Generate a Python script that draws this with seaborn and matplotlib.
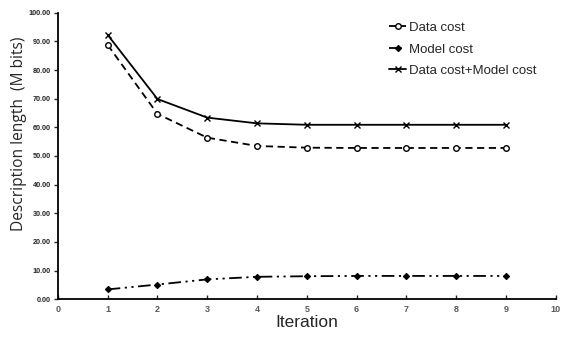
import numpy as np
import pandas as pd
import matplotlib
matplotlib.use("Agg")
import matplotlib.pyplot as plt
import seaborn as sns

iterations = [1, 2, 3, 4, 5, 6, 7, 8, 9]
data_cost = [88.8, 64.7, 56.4, 53.5, 52.9, 52.8, 52.8, 52.8, 52.8]
model_cost = [3.4, 5.1, 6.9, 7.8, 8.0, 8.1, 8.1, 8.1, 8.1]
total_cost = [92.3, 69.9, 63.4, 61.4, 60.9, 60.9, 60.9, 60.9, 60.9]

sns.set_style("ticks")
plt.rcParams["font.family"] = ["Liberation Sans", "DejaVu Sans"]

fig = plt.figure(figsize=(5.62, 3.38), dpi=100)
ax = fig.add_axes([0.103, 0.115, 0.886, 0.847])

series = [
    ("Data cost", data_cost, dict(marker="o", markerfacecolor="white", markersize=4,
                                  markeredgewidth=1.0, dashes=(4, 2.5))),
    ("Model cost", model_cost, dict(marker="D", markerfacecolor="black", markersize=3.2,
                                    dashes=(7, 2.5, 1.2, 2.5, 1.2, 2.5))),
    ("Data cost+Model cost", total_cost, dict(marker="x", markersize=4.5,
                                              markeredgewidth=1.0)),
]

for name, vals, style in series:
    df = pd.DataFrame({"Iteration": iterations, "value": vals})
    sns.lineplot(data=df, x="Iteration", y="value", ax=ax, color="black",
                 linewidth=1.3, markeredgecolor="black", label=name, **style)

ax.set_xlim(0, 10)
ax.set_ylim(0, 100)
ax.set_xticks(range(0, 11))
ax.set_yticks(np.arange(0, 101, 10))
ax.set_yticklabels([f"{v:.2f}" for v in np.arange(0, 101, 10)],
                   fontsize=5.2, fontweight="bold")
ax.set_xticklabels([str(v) for v in range(0, 11)], fontsize=6.5,
                   fontweight="bold", color="#595959")
ax.tick_params(axis="y", direction="out", length=3, width=1, pad=2)
ax.tick_params(axis="x", direction="in", length=3, width=1, pad=4)
for s in ["left", "bottom"]:
    ax.spines[s].set_linewidth(1.3)
    ax.spines[s].set_color("black")
sns.despine(ax=ax)

ax.set_xlabel("Iteration", fontsize=12.5, labelpad=1)
ax.set_ylabel("Description length  (M bits)", fontsize=11.2,
              family=["Open Sans", "DejaVu Sans"])
ax.yaxis.set_label_coords(-0.062, 0.577)

ax.legend(loc="upper right", bbox_to_anchor=(0.985, 1.01), frameon=False,
          fontsize=9.5, handlelength=1.3, handletextpad=0.2, labelspacing=0.7)

fig.savefig("out.png", dpi=100)
